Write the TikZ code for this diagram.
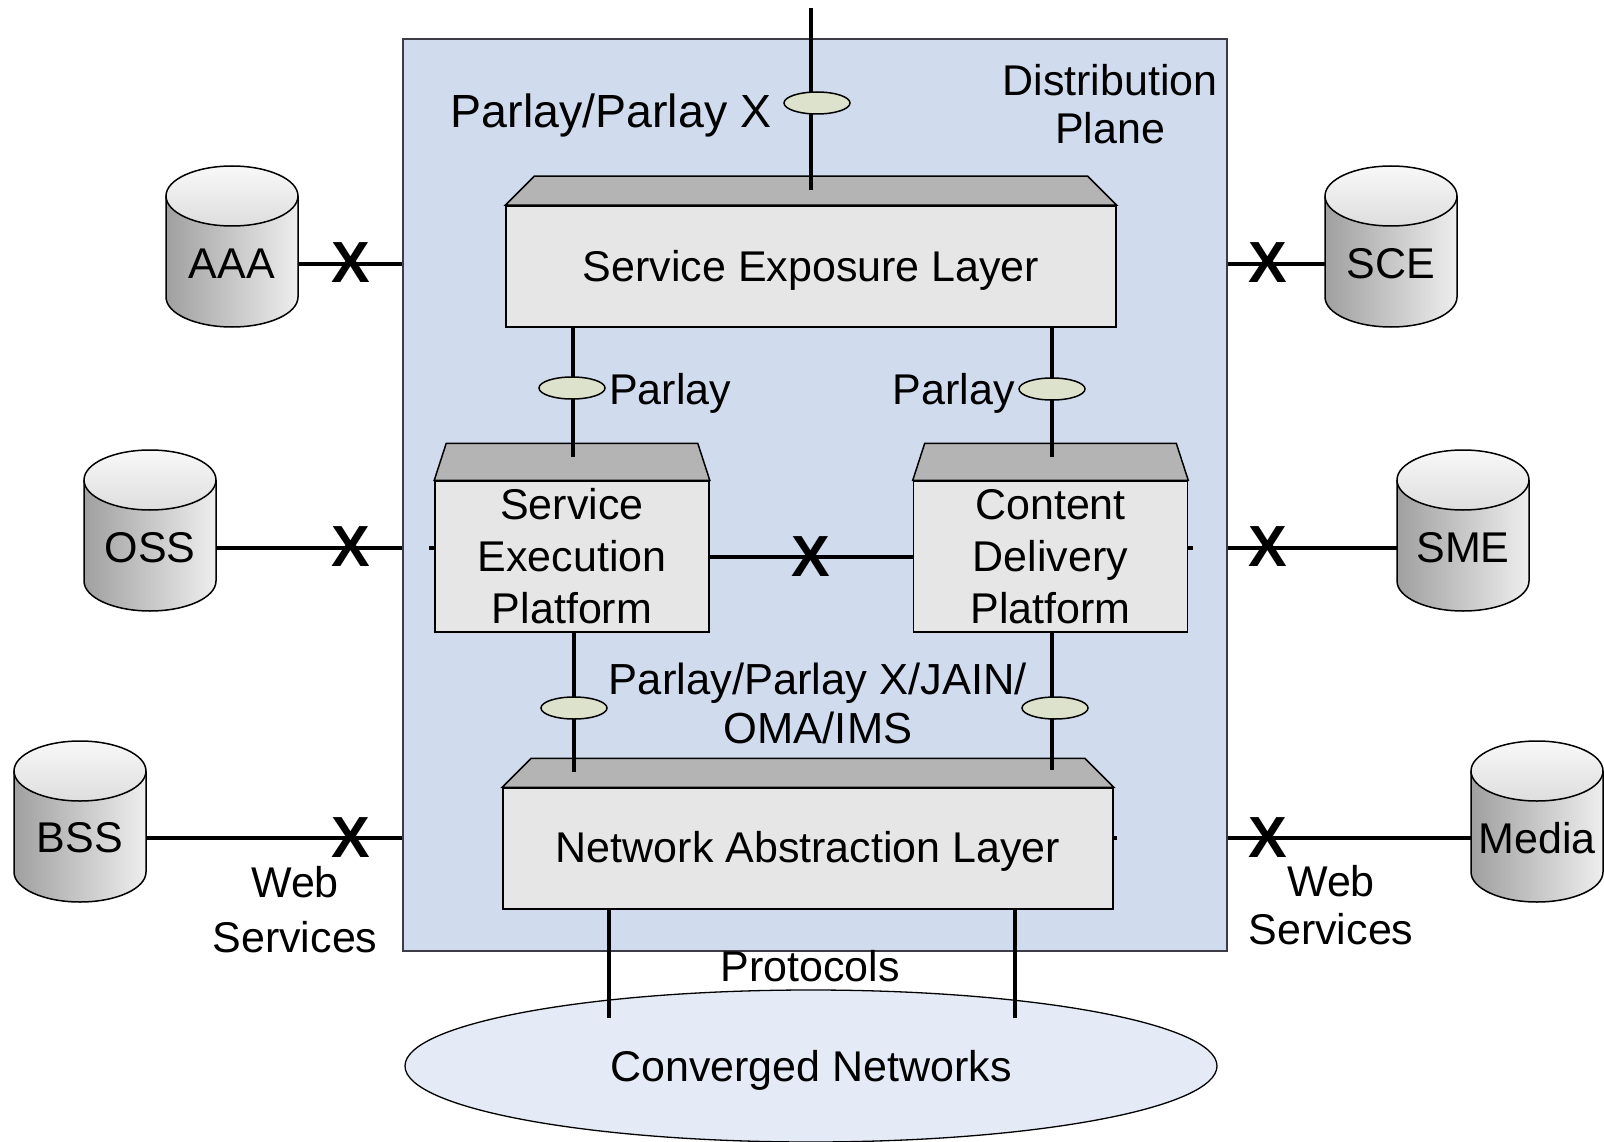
\documentclass[tikz,border=0pt]{standalone}
\usepackage{fontspec}
\setmainfont{Liberation Sans}
\usetikzlibrary{shapes.geometric}

\definecolor{planefill}{RGB}{208,220,238}
\definecolor{planeline}{RGB}{60,60,70}
\definecolor{boxfront}{RGB}{230,230,230}
\definecolor{boxtop}{RGB}{180,180,180}
\definecolor{ifcfill}{RGB}{221,226,204}
\definecolor{netfill}{RGB}{228,234,246}
\definecolor{cylleft}{RGB}{160,160,160}
\definecolor{cylright}{RGB}{238,238,238}
\definecolor{cyltopA}{RGB}{248,248,248}
\definecolor{cyltopB}{RGB}{222,222,222}

% database cylinder: #1 name, #2 centre x, #3 top y, #4 label y, #5 label
\newcommand{\dbcyl}[5]{%
  \shade[left color=cylleft, right color=cylright]
    ({#2-66},{#3+30}) -- ({#2-66},{#3+131})
    arc[start angle=180, end angle=0, x radius=66, y radius=30]
    -- ({#2+66},{#3+30}) -- cycle;
  \shade[top color=cyltopA, bottom color=cyltopB]
    (#2,{#3+30}) ellipse[x radius=66, y radius=30];
  \draw[line width=1.5pt]
    ({#2-66},{#3+30}) -- ({#2-66},{#3+131})
    arc[start angle=180, end angle=0, x radius=66, y radius=30]
    -- ({#2+66},{#3+30});
  \draw[line width=1.5pt] (#2,{#3+30}) ellipse[x radius=66, y radius=30];
  \node[lbl, minimum width=132pt] (#1) at (#2,#4) {#5};
}

\begin{document}
\begin{tikzpicture}[x=1pt, y=-1pt,
  lbl/.style={font=\fontsize{43}{51}\selectfont, inner sep=0pt, align=center},
  plane/.style={draw=planeline, line width=1.3pt, fill=planefill, inner sep=0pt},
  layer/.style={draw=black, line width=1.5pt, fill=boxfront, inner sep=0pt,
    align=center, font=\fontsize{43}{52}\selectfont},
  bevel/.style={draw=black, line width=1.5pt, fill=boxtop, line join=miter},
  link/.style={line width=4pt},
  ifc/.style={ellipse, draw=black, line width=1.5pt, fill=ifcfill,
    minimum width=66pt, minimum height=22pt, inner sep=0pt},
  xmark/.style={font=\fontsize{58}{58}\selectfont\bfseries, inner sep=0pt},
  net/.style={ellipse, draw=black, line width=1.3pt, fill=netfill, inner sep=0pt},
]
\useasboundingbox (0,0) rectangle (1604,1142);

% distribution plane
\node[plane, minimum width=824pt, minimum height=912pt] (plane) at (815,495) {};
\node[lbl, font=\fontsize{43}{48}\selectfont] (dist) at (1110,104) {Distribution\\Plane};

% converged networks
\node[net, minimum width=812pt, minimum height=152pt] (net) at (811,1066) {};
\node[lbl] (netlabel) at (811,1070) {Converged Networks};

% external databases
\dbcyl{aaa}{232}{166}{264}{AAA}
\dbcyl{oss}{150}{450}{548}{OSS}
\dbcyl{bss}{80}{741}{838}{BSS}
\dbcyl{sce}{1391}{166}{264}{SCE}
\dbcyl{sme}{1463}{450}{548}{SME}
\dbcyl{media}{1537}{741}{838}{Media}

% links to the databases
\draw[link] (aaa.east) -- (plane.west |- aaa.east);
\draw[link] (oss.east) -- (plane.west |- oss.east);
\draw[link] (bss.east) -- (plane.west |- bss.east);
\draw[link] (plane.east |- sce.west) -- (sce.west);
\draw[link] (plane.east |- sme.west) -- (sme.west);
\draw[link] (plane.east |- media.west) -- (media.west);
\node[xmark] (xaaa) at (351,263) {X};
\node[xmark] (xoss) at (351,547) {X};
\node[xmark] (xbss) at (351,838) {X};
\node[xmark] (xsce) at (1268,263) {X};
\node[xmark] (xsme) at (1268,547) {X};
\node[xmark] (xmedia) at (1268,838) {X};
\node[lbl, font=\fontsize{43}{55}\selectfont] (wsL) at (295,910) {Web\\Services};
\node[lbl, font=\fontsize{43}{48}\selectfont] (wsR) at (1331,905) {Web\\Services};

% layers and platforms
\node[layer, minimum width=610pt, minimum height=121pt] (sel) at (811,266.5) {};
\node[lbl] (sellabel) at (811,270) {Service Exposure Layer};
\filldraw[bevel] (sel.north west) -- ++(29,-29) -- ([xshift=-29pt,yshift=29pt]sel.north east) -- (sel.north east) -- cycle;

\node[layer, minimum width=274pt, minimum height=151pt] (sep) at (572,556.5) {Service\\Execution\\Platform};
\filldraw[bevel] (sep.north west) -- ++(12,-37) -- ([xshift=-12pt,yshift=37pt]sep.north east) -- (sep.north east) -- cycle;

\node[layer, minimum width=274pt, minimum height=151pt] (cdp) at (1050.5,556.5) {Content\\Delivery\\Platform};
\filldraw[bevel] (cdp.north west) -- ++(12,-37) -- ([xshift=-12pt,yshift=37pt]cdp.north east) -- (cdp.north east) -- cycle;

\node[layer, minimum width=610pt, minimum height=121pt] (nal) at (808,848.5) {};
\node[lbl] (nallabel) at (808,851) {Network Abstraction Layer};
\filldraw[bevel] (nal.north west) -- ++(29,-29) -- ([xshift=-29pt,yshift=29pt]nal.north east) -- (nal.north east) -- cycle;

% short stubs of the database links behind the plane
\draw[link] (sep.west |- oss.east) -- ++(-5,0);
\draw[link] (cdp.east |- sme.west) -- ++(5,0);
\draw[link] (nal.east |- media.west) -- ++(3,0);

% interface links
\coordinate (ptop) at (811,8);
\coordinate (selin) at (811,190);
\coordinate (sepin) at (573,457);
\coordinate (cdpin) at (1052,457);
\coordinate (nalinL) at (574,772);
\coordinate (nalinR) at (1052,770);
\coordinate (netL) at (609,1018);
\coordinate (netR) at (1015,1018);

\draw[link] (ptop) -- (selin);
\draw[link] (sel.south -| sepin) -- (sepin);
\draw[link] (sel.south -| cdpin) -- (cdpin);
\draw[link] (sep.south -| nalinL) -- (nalinL);
\draw[link] (cdp.south -| nalinR) -- (nalinR);
\draw[link] (sep.east) -- (cdp.west);
\draw[link] (nal.south -| netL) -- (netL);
\draw[link] (nal.south -| netR) -- (netR);

\node[ifc] (i0) at (817,103) {};
\node[ifc] (i1) at (572,388) {};
\node[ifc] (i2) at (1052,389) {};
\node[ifc] (i3) at (574,708) {};
\node[ifc] (i4) at (1055,708) {};
\node[xmark] (xmid) at (811,557) {X};

% interface labels
\node[lbl, font=\fontsize{46.5}{51}\selectfont] (parlayx) at (611,115) {Parlay/Parlay X};
\node[lbl, anchor=west] (parlayL) at (609,393) {Parlay};
\node[lbl, anchor=east] (parlayR) at (1015,393) {Parlay};
\node[lbl, font=\fontsize{43.5}{49}\selectfont] (jain) at (818,703) {Parlay/Parlay X/JAIN/\\OMA/IMS};
\node[lbl] (proto) at (810,966) {Protocols};
\end{tikzpicture}
\end{document}
